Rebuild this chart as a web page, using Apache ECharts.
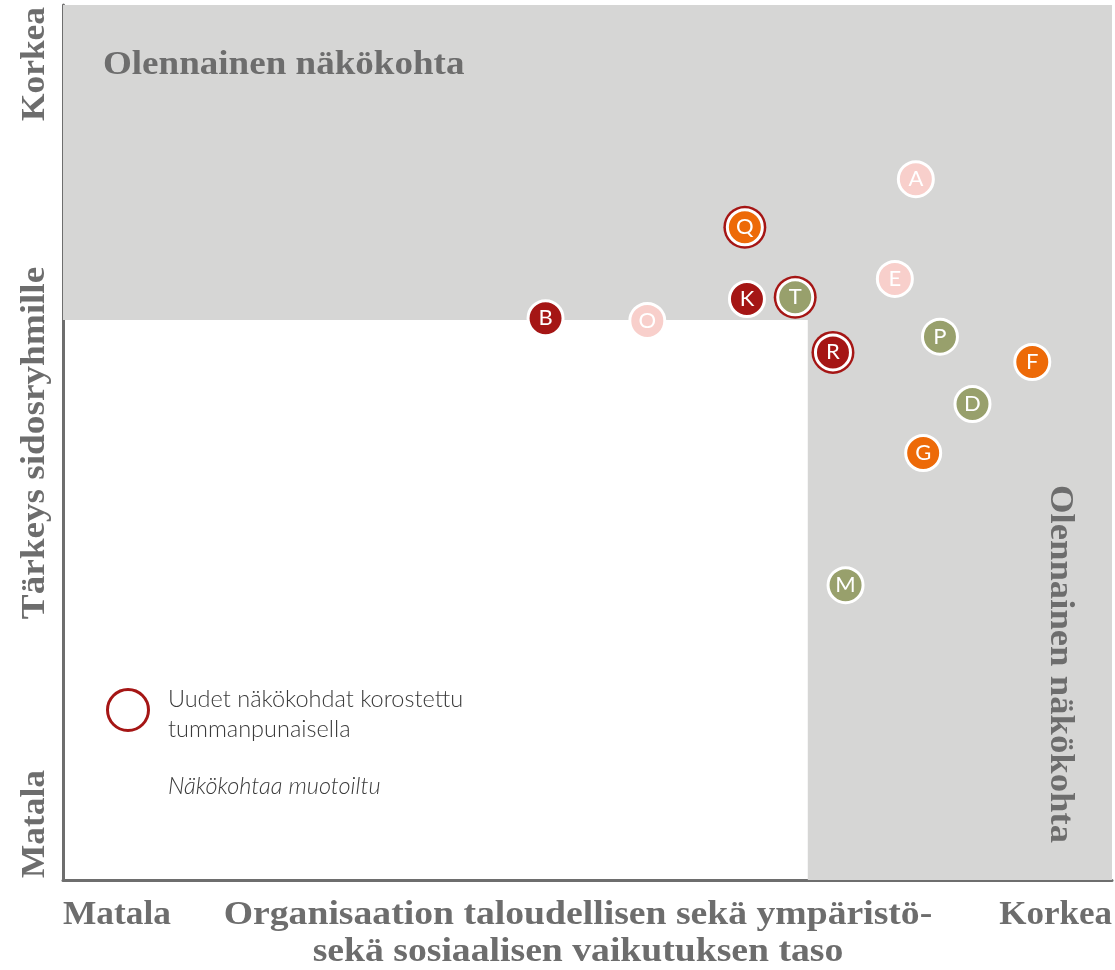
<!DOCTYPE html>
<html>
<head>
<meta charset="utf-8">
<script src="https://cdn.jsdelivr.net/npm/echarts@6/dist/echarts.min.js"></script>
<style>html,body{margin:0;padding:0;background:#fff}#c{width:1115px;height:970px}</style>
</head>
<body>
<div id="c"></div>
<script>
const labels  = ['A','Q','E','K','T','B','O','P','R','F','D','G','M'];
const xValues = [81.3,65.0,79.3,65.2,69.8,46.0,55.7,83.6,73.4,92.4,86.7,82.0,74.6];
const yValues = [80.1,74.6,68.7,66.4,66.6,64.2,63.9,62.1,60.3,59.2,54.4,48.8,33.7];
const groups  = ['pink','orange','pink','red','green','red','pink','green','red','orange','green','orange','green'];
const isNew   = [false,true,false,false,true,false,false,false,true,false,false,false,false];
const materialY = 64.0;
const materialX = 71.0;

const palette = {pink:'#f8cfcb', orange:'#ed6a08', red:'#a51615', green:'#98a06c'};
const textCol = '#6d6d6d';
const serif = '"Liberation Serif", "Times New Roman", serif';

const pts = labels.map((l,i)=>({
  value:[xValues[i], yValues[i]], name:l,
  itemStyle:{color:palette[groups[i]]}
}));
const ringPts = labels.map((l,i)=>isNew[i]?{value:[xValues[i], yValues[i]]}:null).filter(Boolean);

function T(text, x, y, align, opts){
  return Object.assign({type:'text', x:x, y:y, z:100,
    style:{text:text, font:'bold 34px '+serif, fill:textCol, textAlign:align, textVerticalAlign:'middle'}}, opts||{});
}

const chart = echarts.init(document.getElementById('c'), null, {renderer:'canvas'});
chart.setOption({
  animation:false,
  grid:{left:63, right:3, top:5, bottom:90},
  xAxis:{type:'value', min:0, max:100, axisLine:{show:true, lineStyle:{color:'#6e6e6e', width:3}},
    axisTick:{show:false}, axisLabel:{show:false}, splitLine:{show:false}},
  yAxis:{type:'value', min:0, max:100, axisLine:{show:true, lineStyle:{color:'#6e6e6e', width:3}},
    axisTick:{show:false}, axisLabel:{show:false}, splitLine:{show:false}},
  series:[
    {type:'scatter', data:[], silent:true, z:1,
      markArea:{silent:true, itemStyle:{color:'#d6d6d5'}, data:[
        [{xAxis:0, yAxis:materialY},{xAxis:100, yAxis:100}],
        [{xAxis:materialX, yAxis:0},{xAxis:100, yAxis:materialY}]
      ]}},
    {type:'scatter', data:ringPts, symbol:'circle', symbolSize:43, z:2,
      itemStyle:{color:'#a51615', opacity:1}},
    {type:'scatter', data:pts, symbol:'circle', symbolSize:35, z:3,
      itemStyle:{borderColor:'#ffffff', borderWidth:3, opacity:1},
      label:{show:true, position:'inside', formatter:p=>p.name, color:'#ffffff',
        fontFamily:'Lato, sans-serif', fontSize:22, fontWeight:400}}
  ],
  graphic:[
    T('Olennainen näkökohta', 103, 65, 'left', {scaleX:1.09}),
    T('Olennainen näkökohta', 1060, 664, 'center', {rotation:-Math.PI/2, scaleX:1.08}),
    T('Korkea', 35, 64, 'center', {rotation:Math.PI/2, scaleX:1.04}),
    T('Tärkeys sidosryhmille', 35, 443, 'center', {rotation:Math.PI/2, scaleX:1.094}),
    T('Matala', 35, 824, 'center', {rotation:Math.PI/2, scaleX:1.04}),
    T('Matala', 63, 915, 'left', {scaleX:1.04}),
    T('Korkea', 1112, 915, 'right', {scaleX:1.03}),
    T('Organisaation taloudellisen sekä ympäristö-', 578, 915, 'center', {scaleX:1.108}),
    T('sekä sosiaalisen vaikutuksen taso', 578, 952, 'center', {scaleX:1.108}),
    {type:'circle', z:100, shape:{cx:128, cy:710, r:20.5}, style:{fill:'none', stroke:'#a51615', lineWidth:3}},
    {type:'text', z:100, x:168, y:699, style:{text:'Uudet näkökohdat korostettu', font:'300 23.5px Lato, sans-serif', fill:'#3a3a3a', textAlign:'left', textVerticalAlign:'middle'}},
    {type:'text', z:100, x:168, y:729, style:{text:'tummanpunaisella', font:'300 23.5px Lato, sans-serif', fill:'#3a3a3a', textAlign:'left', textVerticalAlign:'middle'}},
    {type:'text', z:100, x:168, y:786, style:{text:'Näkökohtaa muotoiltu', font:'italic 300 23.5px Lato, sans-serif', fill:'#3a3a3a', textAlign:'left', textVerticalAlign:'middle'}}
  ]
});
</script>
</body>
</html>
